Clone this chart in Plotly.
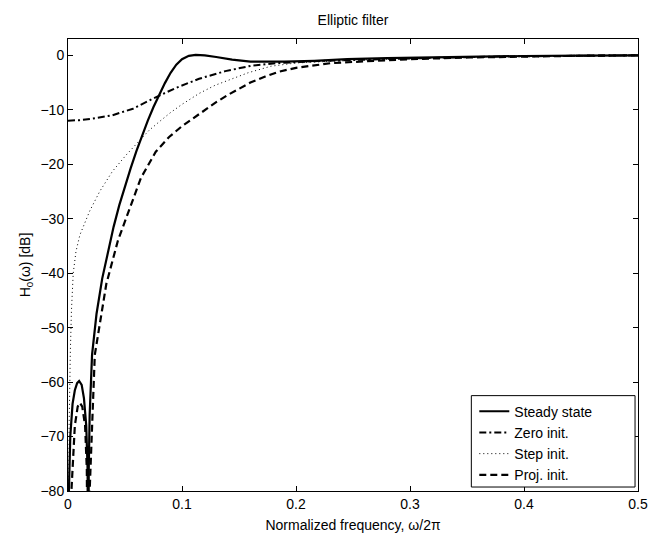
import plotly.graph_objects as go

# Steady state
f_ss = [0, 0.0008, 0.002, 0.004, 0.006, 0.008, 0.0098, 0.012, 0.014, 0.016, 0.0172, 0.0177, 0.0182, 0.019,
        0.0211, 0.025, 0.03, 0.035, 0.04, 0.045, 0.05, 0.055, 0.06, 0.065, 0.07, 0.075, 0.08, 0.085, 0.09,
        0.095, 0.1, 0.106, 0.112, 0.12, 0.13, 0.144, 0.16, 0.173, 0.19, 0.216, 0.245, 0.28, 0.32, 0.36, 0.4,
        0.45, 0.5]
db_ss = [-120, -80, -70, -64, -61.5, -60.2, -59.8, -60.5, -63, -68, -76, -120, -76, -66,
         -55, -47.5, -41, -36, -31.5, -27.5, -24, -20.7, -17.6, -14.7, -12.0, -9.5, -7.2, -5.1, -3.2,
         -1.7, -0.7, -0.1, 0.1, 0.0, -0.3, -0.8, -1.15, -1.2, -1.15, -1.0, -0.7, -0.5, -0.35, -0.22, -0.12,
         -0.05, 0]

# Zero init.
f_zero = [0, 0.01, 0.022, 0.039, 0.057, 0.074, 0.0945, 0.115, 0.138, 0.161, 0.185, 0.219, 0.26, 0.3,
          0.35, 0.4, 0.45, 0.5]
db_zero = [-12.0, -11.9, -11.6, -11.0, -9.8, -8.0, -6.0, -4.3, -2.9, -1.9, -1.4, -1.05, -0.8, -0.55,
           -0.33, -0.17, -0.06, 0]

# Step init.
f_step = [0, 0.0005, 0.001, 0.002, 0.003, 0.0046, 0.007, 0.0104, 0.015, 0.019, 0.0278, 0.039, 0.051,
          0.064, 0.071, 0.08, 0.09, 0.1, 0.115, 0.129, 0.145, 0.158, 0.178, 0.2, 0.25, 0.3, 0.35, 0.4,
          0.45, 0.5]
db_step = [-120, -80, -68, -55, -47, -40, -36, -33, -30.5, -28.6, -25, -21.3, -18.3,
           -15.3, -13.8, -12.2, -10.5, -9.0, -7.0, -5.5, -4.2, -3.2, -2.0, -1.4, -0.9, -0.55, -0.3, -0.15,
           -0.05, 0]

# Proj. init.
f_proj = [0, 0.003, 0.006, 0.0085, 0.0104, 0.0125, 0.015, 0.0165, 0.0178, 0.019, 0.0235, 0.0336, 0.0438,
          0.054, 0.064, 0.077, 0.0887, 0.1, 0.11, 0.12, 0.13, 0.14, 0.15, 0.16, 0.173, 0.185, 0.2, 0.23,
          0.26, 0.3, 0.35, 0.4, 0.45, 0.5]
db_proj = [-120, -80, -68, -64.5, -63.8, -64.5, -68, -76, -120, -80, -55, -42, -34,
           -28, -22.5, -17.7, -15, -13.0, -11.5, -10.0, -8.6, -7.3, -6.1, -5.0, -3.9, -3.0, -2.3, -1.45,
           -1.1, -0.7, -0.4, -0.2, -0.08, 0]

x_ticks = [0, 0.1, 0.2, 0.3, 0.4, 0.5]
x_ticklabels = ["0", "0.1", "0.2", "0.3", "0.4", "0.5"]
y_ticks = [-80, -70, -60, -50, -40, -30, -20, -10, 0]
y_ticklabels = ["\u221280", "\u221270", "\u221260", "\u221250", "\u221240", "\u221230", "\u221220", "\u221210", "0"]

FONT = "Liberation Sans, Arial, Helvetica, sans-serif"
FS = 14

W, H = 660, 543
ML, MR, MT, MB = 68, 14, 39, 49
PW, PH = W - ML - MR, H - MT - MB


def px_x(p):
    return (p - ML) / PW


def px_y(p):
    return (H - MB - p) / PH


fig = go.Figure()
fig.add_trace(go.Scatter(x=f_ss, y=db_ss, mode="lines", name="Steady state",
                         line=dict(color="black", width=2.2)))
fig.add_trace(go.Scatter(x=f_zero, y=db_zero, mode="lines", name="Zero init.",
                         line=dict(color="black", width=2, dash="7px,3px,2px,3px")))
fig.add_trace(go.Scatter(x=f_step, y=db_step, mode="lines", name="Step init.",
                         line=dict(color="black", width=1, dash="1px,3px")))
fig.add_trace(go.Scatter(x=f_proj, y=db_proj, mode="lines", name="Proj. init.",
                         line=dict(color="black", width=2.2, dash="7px,4px")))

axis_common = dict(showgrid=False, zeroline=False, showline=True, linecolor="black", linewidth=1,
                   mirror="ticks", ticks="inside", ticklen=5, tickcolor="black", tickwidth=1,
                   tickfont=dict(family=FONT, size=FS, color="black"))

# legend frame (white box with black border)
fig.add_shape(type="rect", xref="paper", yref="paper",
              x0=px_x(477), x1=px_x(643), y0=px_y(490), y1=px_y(398),
              fillcolor="white", line=dict(color="black", width=1), layer="above")

fig.update_layout(
    width=W, height=H,
    margin=dict(l=ML, r=MR, t=MT, b=MB),
    paper_bgcolor="white", plot_bgcolor="white",
    font=dict(family=FONT, size=FS, color="black"),
    title=dict(text="Elliptic filter", x=0.5, xref="paper", y=1 - 20 / H, yref="container",
               yanchor="middle", xanchor="center", font=dict(family=FONT, size=FS, color="black")),
    showlegend=True,
    legend=dict(x=px_x(480), y=px_y(398), xanchor="left", yanchor="top",
                bgcolor="rgba(0,0,0,0)", borderwidth=0,
                font=dict(family=FONT, size=FS, color="black"),
                itemwidth=30, tracegroupgap=0),
)
fig.update_xaxes(range=[0, 0.5], tickvals=x_ticks, ticktext=x_ticklabels,
                 title=dict(text="Normalized frequency, \u03c9/2\u03c0", standoff=9,
                            font=dict(family=FONT, size=FS, color="black")),
                 **axis_common)
fig.update_yaxes(range=[-80, 3], tickvals=y_ticks, ticktext=y_ticklabels,
                 title=dict(text="H<sub>0</sub>(\u03c9) [dB]", standoff=6,
                            font=dict(family=FONT, size=FS, color="black")),
                 **axis_common)

fig.write_html("out.html")
